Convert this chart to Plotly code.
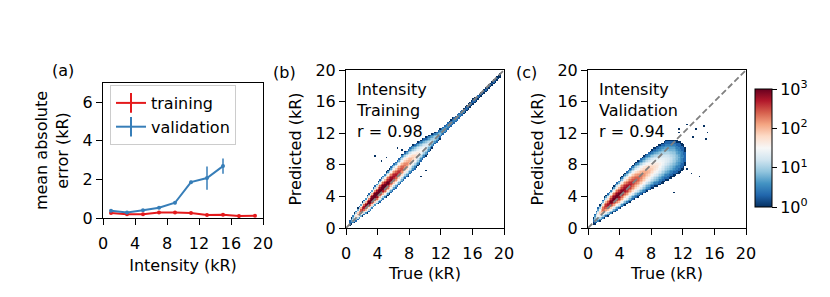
import numpy as np
import plotly.graph_objects as go

W, H = 830, 297
FONT = "DejaVu Sans"
FS = 16

# ---------------- panel (a) data ----------------
train_x = [1, 3, 5, 7, 9, 11, 13, 15, 17, 19]
train_mae = [0.26, 0.19, 0.20, 0.28, 0.28, 0.26, 0.15, 0.17, 0.10, 0.12]
train_err = [0.04, 0.03, 0.03, 0.03, 0.03, 0.03, 0.03, 0.04, 0.03, 0.04]
val_x = [1, 3, 5, 7, 9, 11, 13, 15]
val_mae = [0.38, 0.29, 0.40, 0.53, 0.79, 1.86, 2.07, 2.69]
val_err = [0.06, 0.05, 0.05, 0.06, 0.08, 0.07, 0.60, 0.39]

# ---------------- panel (b) density description (training) ----------------
tr_x = [0.5, 1, 2, 3, 4, 5, 6, 7, 8, 9, 10, 11, 12, 13, 14, 15, 16, 17, 18, 19, 19.6]
tr_center = [0.7, 1.2, 2.3, 3.3, 4.4, 5.4, 6.4, 7.4, 8.4, 9.3, 10.2, 11.1, 12.0, 13.0, 13.9, 14.9, 15.9, 16.8, 17.8, 18.8, 19.4]
tr_peak = [0.3, 1.3, 2.7, 3.2, 3.3, 3.1, 2.8, 2.5, 2.1, 1.7, 1.4, 1.1, 0.8, 0.6, 0.5, 0.45, 0.4, 0.3, 0.3, 0.2, 0.1]
tr_extent = [0.4, 0.6, 0.9, 1.2, 1.4, 1.6, 1.7, 1.8, 1.8, 1.6, 1.3, 0.9, 0.6, 0.5, 0.45, 0.4, 0.35, 0.3, 0.3, 0.3, 0.2]
tr_out_x = [3.6, 4.6, 5.0, 6.5, 7.0, 9.5, 10.0]
tr_out_y = [9.0, 8.6, 8.9, 10.0, 9.8, 6.6, 7.3]

# ---------------- panel (c) density description (validation) ----------------
va_x = [0.7, 1, 2, 3, 4, 5, 6, 7, 8, 9, 10, 11, 12, 12.5]
va_center = [1.0, 1.3, 2.5, 3.4, 4.3, 5.2, 6.0, 6.7, 7.4, 8.0, 8.6, 8.9, 9.0, 9.0]
va_peak = [0.3, 1.2, 2.5, 3.0, 3.0, 2.8, 2.5, 2.2, 1.9, 1.6, 1.3, 1.0, 0.5, 0.1]
va_extent = [0.5, 0.8, 1.3, 1.6, 1.9, 2.1, 2.3, 2.4, 2.5, 2.6, 2.6, 2.4, 1.8, 0.8]
va_out_x = [11.6, 12.4, 13.3, 13.6, 14.6, 15.1, 14.8, 12.5, 13.2, 14.2, 10.8, 11.5]
va_out_y = [12.4, 13.0, 11.4, 12.5, 12.8, 12.2, 11.3, 7.4, 6.8, 6.4, 4.4, 12.0]

axis_ticks = [0, 4, 8, 12, 16, 20]
cbar_vals = [0, 1, 2, 3]
cbar_text = ["10<sup>0</sup>", "10<sup>1</sup>", "10<sup>2</sup>", "10<sup>3</sup>"]

BIN = 0.2
centers = np.arange(BIN / 2, 20, BIN)


def density(ax, ac, ap, ae, ox, oy):
    z = np.full((len(centers), len(centers)), np.nan)
    for j, xc in enumerate(centers):
        if xc < ax[0] or xc > ax[-1]:
            continue
        c = np.interp(xc, ax, ac)
        p = np.interp(xc, ax, ap)
        e = np.interp(xc, ax, ae)
        d = np.abs(centers - c) / e
        L = p * np.clip(1 - d ** 1.5, 0, None)
        cnt = np.round(10 ** L)
        mask = (d < 1) & (cnt >= 1)
        z[mask, j] = np.log10(cnt[mask])
    for xo, yo in zip(ox, oy):
        i = int(yo / BIN)
        j = int(xo / BIN)
        if np.isnan(z[i, j]):
            z[i, j] = 0.0
    return z


z_tr = density(tr_x, tr_center, tr_peak, tr_extent, tr_out_x, tr_out_y)
z_va = density(va_x, va_center, va_peak, va_extent, va_out_x, va_out_y)

rdbu = ['#67001f', '#b2182b', '#d6604d', '#f4a582', '#fddbc7', '#f7f7f7',
        '#d1e5f0', '#92c5de', '#4393c3', '#2166ac', '#053061'][::-1]
cscale = [[i / (len(rdbu) - 1), c] for i, c in enumerate(rdbu)]

RED = "#e41a1c"
BLUE = "#377eb8"

fig = go.Figure()
for name, xs, ys, es, col in [("training", train_x, train_mae, train_err, RED),
                              ("validation", val_x, val_mae, val_err, BLUE)]:
    fig.add_trace(go.Scatter(x=xs, y=ys, mode="lines+markers", name=name, showlegend=False,
                             line=dict(color=col, width=2), marker=dict(color=col, size=4),
                             error_y=dict(type="data", array=es, color=col, thickness=1.5, width=0),
                             xaxis="x", yaxis="y"))
    # legend glyph mimicking an errorbar (line + vertical bar)
    fig.add_trace(go.Scatter(x=[None], y=[None], mode="lines+markers", name=name,
                             line=dict(color=col, width=2),
                             marker=dict(symbol="line-ns-open", size=14, color=col,
                                         line=dict(color=col, width=2)),
                             xaxis="x", yaxis="y"))

fig.add_trace(go.Heatmap(x=centers, y=centers, z=z_tr, coloraxis="coloraxis",
                         xaxis="x2", yaxis="y2", showlegend=False, hoverongaps=False))
fig.add_trace(go.Scatter(x=[0, 20], y=[0, 20], mode="lines", showlegend=False,
                         line=dict(color="#808080", width=1.8, dash="6px,3px"), xaxis="x2", yaxis="y2"))
fig.add_trace(go.Heatmap(x=centers, y=centers, z=z_va, coloraxis="coloraxis",
                         xaxis="x3", yaxis="y3", showlegend=False, hoverongaps=False))
fig.add_trace(go.Scatter(x=[0, 20], y=[0, 20], mode="lines", showlegend=False,
                         line=dict(color="#808080", width=1.8, dash="6px,3px"), xaxis="x3", yaxis="y3"))


def px_x(a, b):
    return [a / W, b / W]


def px_y(top, bottom):
    return [(H - bottom) / H, (H - top) / H]


common = dict(showline=True, linecolor="black", linewidth=1, mirror=True, ticks="outside",
              ticklen=6, tickwidth=1, tickcolor="black", showgrid=False, zeroline=False,
              automargin=False, tickfont=dict(family=FONT, size=FS, color="black"))
tfont = dict(family=FONT, size=FS, color="black")
XSO = 5  # tick-label standoff for x axes

fig.update_layout(
    width=W, height=H, margin=dict(l=0, r=0, t=0, b=0, autoexpand=False),
    paper_bgcolor="white", plot_bgcolor="white",
    font=dict(family=FONT, size=FS, color="black"),
    xaxis=dict(domain=px_x(103, 263), range=[0, 20], tickvals=axis_ticks, ticklabelstandoff=XSO,
               title=dict(text="Intensity (kR)", standoff=7, font=tfont), anchor="y", **common),
    yaxis=dict(domain=px_y(83, 218), range=[0, 7], tickvals=[0, 2, 4, 6],
               title=dict(text="mean absolute<br>error (kR)", standoff=10, font=tfont), anchor="x", **common),
    xaxis2=dict(domain=px_x(346, 504), range=[0, 20], tickvals=axis_ticks, ticklabelstandoff=XSO,
                title=dict(text="True (kR)", standoff=5, font=tfont), anchor="y2", **common),
    yaxis2=dict(domain=px_y(70, 228), range=[0, 20], tickvals=axis_ticks,
                title=dict(text="Predicted (kR)", standoff=9, font=tfont), anchor="x2", **common),
    xaxis3=dict(domain=px_x(588, 746), range=[0, 20], tickvals=axis_ticks, ticklabelstandoff=XSO,
                title=dict(text="True (kR)", standoff=5, font=tfont), anchor="y3", **common),
    yaxis3=dict(domain=px_y(70, 228), range=[0, 20], tickvals=axis_ticks,
                title=dict(text="Predicted (kR)", standoff=9, font=tfont), anchor="x3", **common),
    coloraxis=dict(colorscale=cscale, cmin=0, cmax=3,
                   colorbar=dict(x=755 / W, xanchor="left", xref="paper", xpad=0, ypad=0,
                                 y=(H - 148) / H, yanchor="middle", len=118 / H, lenmode="fraction",
                                 thickness=17, thicknessmode="pixels", outlinewidth=1,
                                 outlinecolor="black", tickvals=cbar_vals, ticktext=cbar_text,
                                 ticks="outside", ticklen=5, tickcolor="black",
                                 tickfont=dict(family=FONT, size=FS, color="black"))),
    legend=dict(x=110 / W, y=(H - 85) / H, xanchor="left", yanchor="top",
                bgcolor="rgba(255,255,255,0.8)", bordercolor="#cccccc", borderwidth=1,
                font=dict(family=FONT, size=FS, color="black"), tracegroupgap=0),
)

ann = [("(a)", 63, 70), ("(b)", 284, 72), ("(c)", 526, 72)]
for t, x, y in ann:
    fig.add_annotation(text=t, x=x / W, y=(H - y) / H, xref="paper", yref="paper",
                       xanchor="center", yanchor="middle", showarrow=False,
                       font=dict(family=FONT, size=FS, color="black"))

panel_text = [(354, "Intensity<br>Training<br>r = 0.98"),
              (597, "Intensity<br>Validation<br>r = 0.94")]
for x0, t in panel_text:
    fig.add_annotation(text=t, x=x0 / W, y=(H - 110) / H, xref="paper", yref="paper",
                       xanchor="left", yanchor="middle", align="left", showarrow=False,
                       font=dict(family=FONT, size=FS, color="black"))

fig.write_html("out.html", config={"displayModeBar": False, "responsive": False},
               post_script="document.body.style.margin='0px';"
                           "document.body.style.overflow='hidden';"
                           "document.documentElement.style.overflow='hidden';")
